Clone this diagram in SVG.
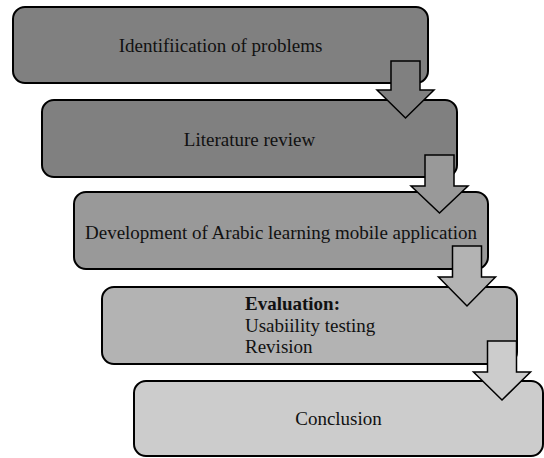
<svg xmlns="http://www.w3.org/2000/svg" width="544" height="458" viewBox="0 0 544 458">
<style>
.box{stroke:#000;stroke-width:2}
.arr{stroke:#000;stroke-width:1.5;stroke-linejoin:miter}
text{font-size:19px;fill:#111}
.c{text-anchor:middle}
.b{font-weight:bold}
</style>
<rect width="544" height="458" fill="#fff"/>
<g id="n1"><rect class="box" x="13" y="7" width="415" height="76" rx="12" fill="#808080"/><text font-family="Liberation Serif, Tinos, DejaVu Serif, serif" class="c" x="220.5" y="52">Identifiication of problems</text></g>
<g id="n2"><rect class="box" x="42" y="100" width="415" height="77" rx="12" fill="#808080"/><text font-family="Liberation Serif, Tinos, DejaVu Serif, serif" class="c" x="249.5" y="145.5">Literature review</text></g>
<g id="n3"><rect class="box" x="74" y="192" width="414" height="77" rx="12" fill="#999999"/><text font-family="Liberation Serif, Tinos, DejaVu Serif, serif" class="c" x="281" y="238.5">Development of Arabic learning mobile application</text></g>
<g id="n4"><rect class="box" x="102" y="287" width="415" height="77" rx="12" fill="#b3b3b3"/><text font-family="Liberation Serif, Tinos, DejaVu Serif, serif" x="245" y="310"><tspan class="b">Evaluation:</tspan><tspan x="245" y="331.5">Usabiility testing</tspan><tspan x="245" y="353">Revision</tspan></text></g>
<g id="n5"><rect class="box" x="134" y="381" width="409" height="75" rx="12" fill="#cccccc"/><text font-family="Liberation Serif, Tinos, DejaVu Serif, serif" class="c" x="338.5" y="425">Conclusion</text></g>
<g id="connectors">
<path class="arr" fill="#808080" d="M391,61 H420 V90 H434 L405.5,118 L377,90 H391 Z"/>
<path class="arr" fill="#999999" d="M425,155 H454 V186 H468 L439.5,213 L411,186 H425 Z"/>
<path class="arr" fill="#b3b3b3" d="M452.5,246 H481.5 V277 H495.5 L467,306 L438.5,277 H452.5 Z"/>
<path class="arr" fill="#cccccc" d="M487.5,341 H516.5 V372 H530.5 L502,400 L473.5,372 H487.5 Z"/>
</g>
</svg>
